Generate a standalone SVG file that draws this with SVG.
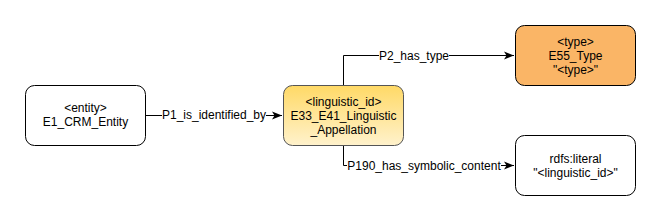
<svg xmlns="http://www.w3.org/2000/svg" width="661" height="222" viewBox="0 0 661 222">
<style>
text{font-family:"Liberation Sans",Arial,sans-serif;font-size:12px;fill:#000;text-anchor:middle}
.box{stroke:#000;stroke-width:1}
.edge{fill:none;stroke:#000;stroke-width:1}
.lbl{fill:#fff}
</style>
<defs>
<linearGradient id="yg" x1="0" y1="0" x2="0" y2="1">
<stop offset="0" stop-color="#ffd966"/>
<stop offset="1" stop-color="#fff2cc"/>
</linearGradient>
<marker id="arr" viewBox="0 0 10 10" refX="10" refY="5" markerWidth="10" markerHeight="10" markerUnits="userSpaceOnUse" orient="auto">
<path d="M0,1 L10,5 L0,9 L2.5,5 Z" fill="#000"/>
</marker>
</defs>
<g id="connectors">
<g id="e1">
<path class="edge" d="M145.5,115.5 H282" marker-end="url(#arr)"/>
<rect class="lbl" x="162" y="107" width="104" height="15"/>
<text x="214" y="119">P1_is_identified_by</text>
</g>
<g id="e2">
<path class="edge" d="M343.5,85 V55.5 H514" marker-end="url(#arr)"/>
<rect class="lbl" x="379" y="48" width="70" height="15"/>
<text x="414" y="59.5">P2_has_type</text>
</g>
<g id="e3">
<path class="edge" d="M343.5,145 V165.5 H514" marker-end="url(#arr)"/>
<rect class="lbl" x="347" y="158" width="154" height="15"/>
<text x="424" y="169.5">P190_has_symbolic_content</text>
</g>
</g>
<g id="entity">
<rect class="box" x="25.5" y="85.5" width="120" height="60" rx="9" fill="#fff"/>
<text x="85.5" y="112">&lt;entity&gt;</text>
<text x="85.5" y="126">E1_CRM_Entity</text>
</g>
<g id="linguistic">
<rect x="283.5" y="85.5" width="120" height="60" rx="9" fill="url(#yg)" stroke="#555" stroke-width="1"/>
<text x="343.5" y="106">&lt;linguistic_id&gt;</text>
<text x="343.5" y="120">E33_E41_Linguistic</text>
<text x="343.5" y="134">_Appellation</text>
</g>
<g id="type">
<rect class="box" x="515.5" y="25.5" width="120" height="60" rx="9" fill="#fab566"/>
<text x="575.5" y="46">&lt;type&gt;</text>
<text x="575.5" y="60">E55_Type</text>
<text x="575.5" y="74">"&lt;type&gt;"</text>
</g>
<g id="literal">
<rect class="box" x="515.5" y="135.5" width="120" height="60" rx="9" fill="#fff"/>
<text x="575.5" y="162.5">rdfs:literal</text>
<text x="575.5" y="176.5">"&lt;linguistic_id&gt;"</text>
</g>
</svg>
